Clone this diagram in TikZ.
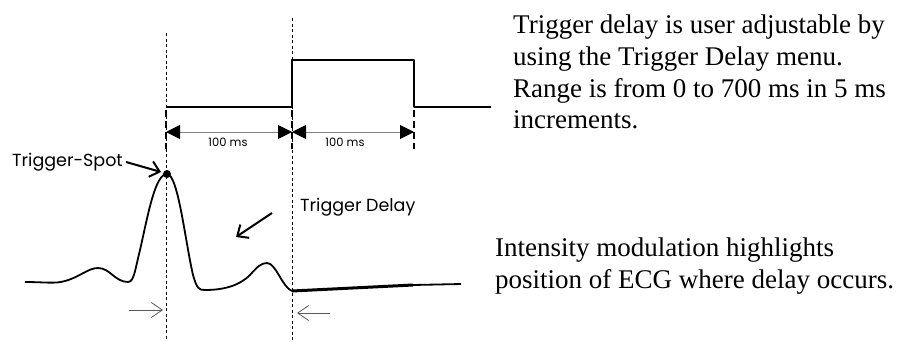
\documentclass[tikz,border=0pt]{standalone}
\usepackage{fontspec}
\setmainfont{Liberation Serif}
\newfontfamily\gothic{Poppins}
\usetikzlibrary{arrows.meta}
\begin{document}
\begin{tikzpicture}[x=1pt,y=-1pt,
  guide/.style={line width=0.8pt, dash pattern=on 3pt off 2.5pt},
  tickmark/.style={line width=2.6pt, dash pattern=on 7pt off 4pt},
  sig/.style={line width=1.8pt, line join=round},
  dimarrow/.style={gray, line width=1pt, {Triangle[length=14pt,width=14pt,black]}-{Triangle[length=14pt,width=14pt,black]}},
  pointer/.style={line width=2pt, -{Straight Barb[length=9pt,width=16pt,line width=2pt]}},
  hint/.style={gray!70!black, line width=0.8pt, -{Straight Barb[length=11pt,width=15pt]}},
  notetext/.style={font=\fontsize{27}{31.7}\selectfont, anchor=base west, inner sep=0pt},
  glabel/.style={font=\gothic\fontsize{17.5}{20}\selectfont, inner sep=0pt},
  mslabel/.style={font=\gothic\fontsize{11.5}{13}\selectfont, inner sep=0pt}
]
\useasboundingbox (0,0) rectangle (899,341);
% guide lines
\coordinate (g1top) at (166,33); \coordinate (g1bot) at (166,341);
\coordinate (g2top) at (292,18); \coordinate (g2bot) at (292,341);
\draw[guide] (g1top) -- (g1bot);
\draw[guide] (g2top) -- (g2bot);
% pulse
\coordinate (p0) at (166,107); \coordinate (p1) at (292,107);
\coordinate (p2) at (292,60);  \coordinate (p3) at (414,60);
\coordinate (p4) at (414,107); \coordinate (p5) at (491,107);
\draw[sig, line width=2pt] (p0) -- (p1) -- (p2) -- (p3) -- (p4) -- (p5);
% ticks
\coordinate (t1a) at (166,110); \coordinate (t1b) at (166,149);
\coordinate (t2a) at (292,110); \coordinate (t2b) at (292,149);
\coordinate (t3a) at (414,110); \coordinate (t3b) at (414,149);
\draw[tickmark] (t1a) -- (t1b);
\draw[tickmark] (t2a) -- (t2b);
\draw[tickmark] (t3a) -- (t3b);
% dimension arrows
\coordinate (d1) at (166,132); \coordinate (d2) at (292,132); \coordinate (d3) at (414,132);
\draw[dimarrow] (d1) -- (d2);
\draw[dimarrow] (d2) -- (d3);
\node[mslabel] (ms1) at (228,142) {100 ms};
\node[mslabel] (ms2) at (345,142) {100 ms};
% ECG
\coordinate (peak) at (167,174);
\draw[sig] (25,282) .. controls (45,282) and (55,284) .. (65,281)
  .. controls (80,277) and (88,268) .. (98,268)
  .. controls (110,268) and (115,282) .. (128,282)
  .. controls (134,282) and (135,270) .. (140,250)
  .. controls (148,215) and (155,174) .. (peak)
  .. controls (178,174) and (185,240) .. (193,275)
  .. controls (197,289) and (199,290) .. (205,290)
  .. controls (225,290) and (240,285) .. (250,275)
  .. controls (257,267) and (261,263) .. (267,263)
  .. controls (276,263) and (282,287) .. (292,291);
\coordinate (e1) at (292,291); \coordinate (e2) at (413,285); \coordinate (e3) at (461,284);
\draw[line width=3pt] (e1) -- (e2);
\draw[line width=1.8pt] (e2) -- (e3);
\fill (peak) circle (4);
% labels
\node[glabel, anchor=west] (spot) at (12,162) {Trigger-Spot};
\coordinate (spottip) at (161,172);
\draw[pointer] (spot.east) ++(3,0) -- (spottip);
\node[glabel, anchor=west] (delay) at (300,207) {Trigger Delay};
\coordinate (da) at (272,213); \coordinate (db) at (236,237);
\draw[pointer] (da) -- (db);
% small hint arrows
\coordinate (h1a) at (129,310); \coordinate (h1b) at (163,310);
\coordinate (h2a) at (330,313); \coordinate (h2b) at (297,313);
\draw[hint] (h1a) -- (h1b);
\draw[hint] (h2a) -- (h2b);
% notes
\node[notetext] (n1) at (513,33) {Trigger delay is user adjustable by};
\node[notetext] (n2) at (513,65) {using the Trigger Delay menu.};
\node[notetext] (n3) at (513,97) {Range is from 0 to 700 ms in 5 ms};
\node[notetext] (n4) at (513,128) {increments.};
\node[notetext] (n5) at (495,256) {Intensity modulation highlights};
\node[notetext] (n6) at (495,288) {position of ECG where delay occurs.};
\end{tikzpicture}
\end{document}
